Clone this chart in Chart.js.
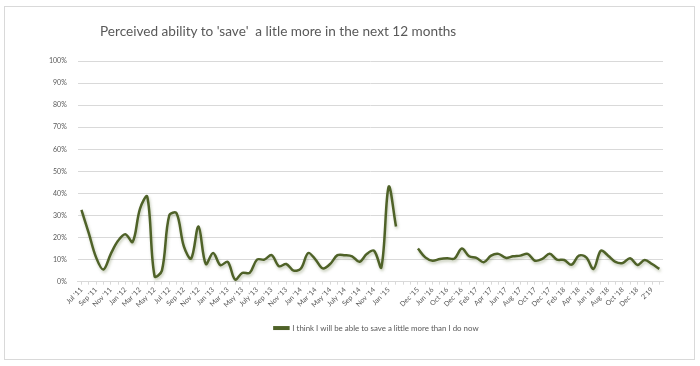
<!DOCTYPE html>
<html>
<head>
<meta charset="utf-8">
<script src="https://cdn.jsdelivr.net/npm/chart.js@4"></script>
<style>
  body { margin: 0; background: #fff; }
  #wrap { position: relative; width: 700px; height: 366px; }
  #frame { position: absolute; left: 4px; top: 6px; width: 689px; height: 352px; border: 1px solid #D9D9D9; }
  #title { position: absolute; left: 100px; top: 23px; font-family: Lato, "Open Sans", sans-serif; font-size: 13.6px; color: #595959; white-space: pre; }
  canvas { position: absolute; left: 0; top: 0; }
</style>
</head>
<body>
<div id="wrap">
  <div id="frame"></div>
  <canvas id="chart" width="700" height="366"></canvas>
  <div id="title">Perceived ability to 'save'  a litle more in the next 12 months</div>
</div>
<script>
// Survey months (labels shown on every second one)
const months = [
  "Jul '11", "Aug '11", "Sep '11", "Oct '11", "Nov '11", "Dec '11",
  "Jan '12", "Feb '12", "Mar '12", "Apr '12", "May '12", "Jun '12",
  "Jul '12", "Aug '12", "Sep '12", "Oct '12", "Nov '12", "Dec '12",
  "Jan '13", "Feb '13", "Mar '13", "Apr '13", "May '13", "Jun '13",
  "July '13", "Aug '13", "Sep '13", "Oct '13", "Nov '13", "Dec '13",
  "Jan '14", "Feb '14", "Mar '14", "Apr '14", "May '14", "Jun '14",
  "July '14", "Aug '14", "Sep '14", "Oct '14", "Nov '14", "Dec '14",
  "Jan '15", "Feb '15", "", "",
  "Dec '15", "Mar '16", "Jun '16", "Aug '16", "Oct '16", "Nov '16",
  "Dec '16", "Jan '17", "Feb '17", "Mar '17", "Apr '17", "May '17",
  "Jun '17", "Jul '17", "Aug '17", "Sep '17", "Oct '17", "Nov '17",
  "Dec '17", "Jan '18", "Feb '18", "Mar '18", "Apr '18", "May '18",
  "Jun '18", "Jul '18", "Aug '18", "Sep '18", "Oct '18", "Nov '18",
  "Dec '18", "Jan '19", "2'19", "Mar '19"
];

// % who think they will be able to save a little more
const saveMore = [
  32.5, 22, 11, 5.5, 12.5, 18.5,
  21.5, 18, 33, 38.5, 2.5, 5,
  30, 31, 16, 10.5, 25, 8,
  13, 7.5, 9, 1, 4, 4,
  10, 10, 12, 7, 8, 5,
  6, 13, 10, 6, 8, 12,
  12, 11.5, 9, 12.5, 14, 6.5,
  43, 25, null, null,
  15, 11, 9.5, 10.3, 10.6, 10.5,
  15, 11.5, 10.8, 8.8, 11.8, 12.6,
  10.8, 11.5, 11.8, 12.6, 9.5, 10.3,
  12.6, 10, 9.8, 7.7, 11.8, 11,
  5.8, 14, 11.8, 9, 8.5, 10.6,
  7.6, 9.8, 8, 5.8
];

const seriesName = 'I think I will be able to save a little more than I do now';
const lineColor = '#4F6228';
const gridColor = '#D9D9D9';
const textColor = '#595959';
const smallFont = { family: 'Lato, "Open Sans", sans-serif', size: 7 };

// soft shadow under the line, like the Excel glow
const lineShadow = {
  id: 'lineShadow',
  beforeDatasetsDraw(chart) {
    const ctx = chart.ctx;
    ctx.save();
    ctx.shadowColor = 'rgba(80, 100, 40, 0.35)';
    ctx.shadowBlur = 3;
    ctx.shadowOffsetX = 1;
    ctx.shadowOffsetY = 2;
  },
  afterDatasetsDraw(chart) {
    chart.ctx.restore();
  }
};

// the legend in the original sits a bit right of the centre
const legendShift = {
  id: 'legendShift',
  afterLayout(chart) {
    chart.legend.left += 26;
    chart.legend.right += 26;
  }
};

new Chart(document.getElementById('chart'), {
  type: 'line',
  data: {
    labels: months,
    datasets: [{
      label: seriesName,
      data: saveMore,
      borderColor: lineColor,
      backgroundColor: lineColor,
      borderWidth: 2.5,
      pointRadius: 0,
      tension: 0.35,
      spanGaps: false
    }]
  },
  options: {
    responsive: false,
    animation: false,
    layout: { padding: { left: 38, right: 37, top: 61, bottom: 24 } },
    plugins: {
      tooltip: { enabled: false },
      legend: {
        position: 'bottom',
        labels: {
          color: textColor,
          font: { family: 'Lato, "Open Sans", sans-serif', size: 7.9 },
          boxWidth: 14,
          boxHeight: 1.5,
          padding: 14
        }
      }
    },
    scales: {
      x: {
        offset: true,
        grid: { display: true, drawOnChartArea: false, drawTicks: true, tickLength: 3, color: gridColor },
        border: { display: true, color: gridColor },
        ticks: {
          autoSkip: false,
          minRotation: 45,
          maxRotation: 45,
          padding: 1,
          color: textColor,
          font: smallFont,
          callback: (v, i) => (i % 2 === 0 ? months[i] : '')
        }
      },
      y: {
        min: 0,
        max: 100,
        ticks: {
          stepSize: 10,
          padding: 11,
          color: textColor,
          font: smallFont,
          callback: v => v + '%'
        },
        grid: { color: gridColor, drawTicks: false },
        border: { display: false }
      }
    }
  },
  plugins: [lineShadow, legendShift]
});
</script>
</body>
</html>
